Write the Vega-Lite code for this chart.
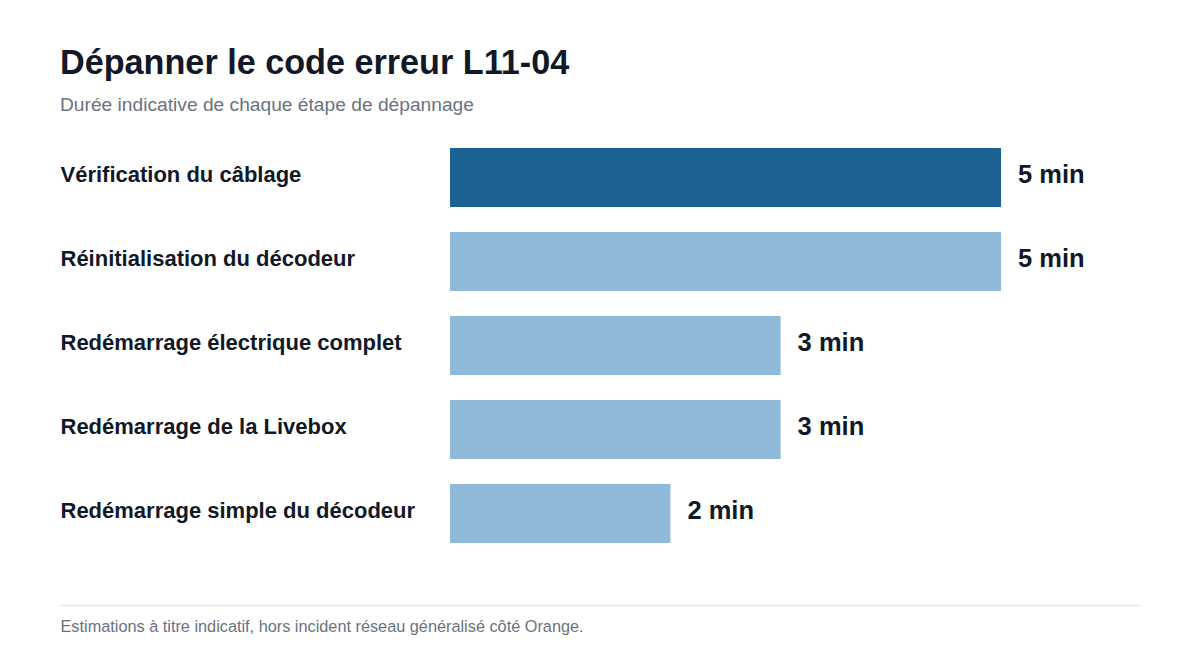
{
  "$schema": "https://vega.github.io/schema/vega-lite/v6.json",
  "autosize": "none",
  "width": 1080,
  "height": 420,
  "padding": {"left": 60, "top": 135.5, "right": 60, "bottom": 104.5},
  "background": "#ffffff",
  "title": {
    "text": "Dépanner le code erreur L11-04",
    "subtitle": "Durée indicative de chaque étape de dépannage",
    "anchor": "start",
    "frame": "group",
    "font": "Liberation Sans",
    "fontSize": 34.2,
    "fontWeight": "bold",
    "color": "#111827",
    "subtitleFont": "Liberation Sans",
    "subtitleFontSize": 19.2,
    "subtitleColor": "#6b7280",
    "subtitlePadding": 15,
    "offset": 20.5
  },
  "data": {
    "values": [
      {"etape": "Vérification du câblage", "minutes": 5, "label": "5 min"},
      {"etape": "Réinitialisation du décodeur", "minutes": 5, "label": "5 min"},
      {"etape": "Redémarrage électrique complet", "minutes": 3, "label": "3 min"},
      {"etape": "Redémarrage de la Livebox", "minutes": 3, "label": "3 min"},
      {"etape": "Redémarrage simple du décodeur", "minutes": 2, "label": "2 min"}
    ]
  },
  "encoding": {
    "y": {
      "field": "etape",
      "type": "nominal",
      "sort": null,
      "scale": {"paddingInner": 0.3, "paddingOuter": 0.15},
      "axis": {
        "title": null,
        "domain": false,
        "ticks": false,
        "tickSize": 0,
        "labelAlign": "left",
        "labelPadding": 0,
        "labelOffset": -2.5,
        "labelFont": "Liberation Sans",
        "labelFontSize": 22,
        "labelFontWeight": "bold",
        "labelColor": "#111827",
        "labelLimit": 400
      }
    },
    "x": {
      "field": "minutes",
      "type": "quantitative",
      "scale": {"domain": [-3.539, 6.261], "nice": false, "zero": false},
      "axis": {
        "labels": false,
        "ticks": false,
        "grid": false,
        "domain": true,
        "domainColor": "#e5e7eb",
        "domainWidth": 1.5,
        "offset": 49.5,
        "title": "Estimations à titre indicatif, hors incident réseau généralisé côté Orange.",
        "titleAnchor": "start",
        "titleAlign": "left",
        "titleBaseline": "top",
        "titleFont": "Liberation Sans",
        "titleFontSize": 16.3,
        "titleFontWeight": "normal",
        "titleColor": "#6b7280",
        "titlePadding": 13
      }
    }
  },
  "layer": [
    {
      "mark": {"type": "bar"},
      "encoding": {
        "x2": {"datum": 0},
        "color": {
          "condition": {"test": "datum.etape === 'Vérification du câblage'", "value": "#1b6194"},
          "value": "#8fb9d9"
        }
      }
    },
    {
      "mark": {
        "type": "text",
        "align": "left",
        "baseline": "middle",
        "dx": 17,
        "dy": -2.5,
        "font": "Liberation Sans",
        "fontSize": 25.5,
        "fontWeight": "bold",
        "color": "#111827"
      },
      "encoding": {"text": {"field": "label"}}
    }
  ],
  "config": {"view": {"stroke": null}}
}
